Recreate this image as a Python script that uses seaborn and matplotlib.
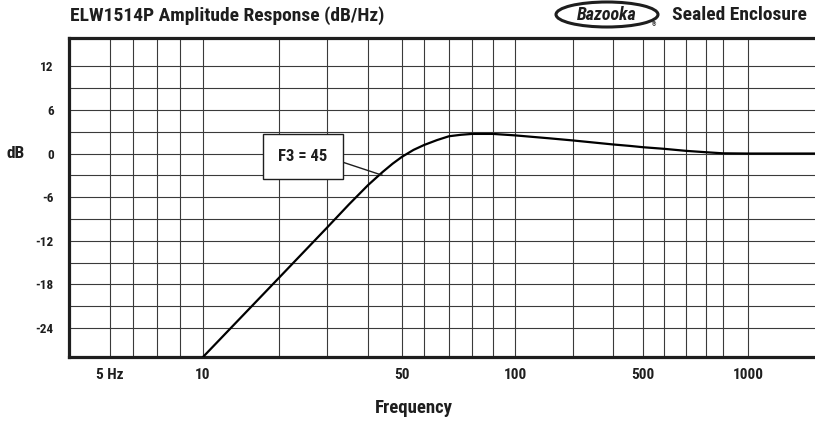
import numpy as np
import pandas as pd
import matplotlib
matplotlib.use("Agg")
import matplotlib.pyplot as plt
from matplotlib import font_manager
from matplotlib.patches import Ellipse
import seaborn as sns

# response curve
freq_hz = [10, 20, 30, 35, 40, 44, 47, 50, 55, 60, 65, 70, 75, 80, 90, 100, 150,
           200, 300, 400, 500, 600, 700, 800, 900, 1000, 1550]
level_db = [-28, -17.1, -10.2, -7.0, -4.35, -2.55, -1.4, -0.45, 0.5, 1.17, 1.85,
            2.38, 2.58, 2.7, 2.7, 2.5, 2.1, 1.8, 1.25, 1.05, 0.87, 0.65, 0.37,
            0.18, 0.03, 0.0, 0.0]

tick_hz = [5, 10, 50, 100, 500, 1000]
tick_labels = ["5 Hz", "10", "50", "100", "500", "1000"]
grid_hz = [5, 6, 7, 8, 10, 20, 30, 40, 50, 60, 70, 80, 90, 100,
           200, 300, 500, 600, 700, 800, 900, 1000]
db_ticks = [12, 6, 0, -6, -12, -18, -24]
db_grid = list(range(-24, 13, 3))

f3_text = "F3 = 45"

# the printed sheet's frequency axis is not a clean log axis, so the scale
# follows where its grid lines sit (pixels across the 815 px sheet)
paper_hz = [4, 5, 6, 7, 8, 10, 20, 30, 40, 50, 60, 70, 80, 90, 100, 200, 300,
            500, 600, 700, 800, 900, 1000, 1550]
paper_px = [69, 110, 133, 157, 180, 203, 279, 327, 368, 402, 424, 449, 472,
            493, 515, 573, 613, 643, 664, 686, 706, 723, 748, 815]
log_hz = np.log10(paper_hz)
slope_lo = (paper_px[1] - paper_px[0]) / (log_hz[1] - log_hz[0])
slope_hi = (paper_px[-1] - paper_px[-2]) / (log_hz[-1] - log_hz[-2])


def to_paper(f):
    lf = np.log10(np.maximum(np.asarray(f, dtype=float), 1e-12))
    p = np.interp(lf, log_hz, paper_px)
    p = np.where(lf < log_hz[0], paper_px[0] + (lf - log_hz[0]) * slope_lo, p)
    p = np.where(lf > log_hz[-1], paper_px[-1] + (lf - log_hz[-1]) * slope_hi, p)
    return p


def from_paper(p):
    p = np.asarray(p, dtype=float)
    lf = np.interp(p, paper_px, log_hz)
    lf = np.where(p < paper_px[0], log_hz[0] + (p - paper_px[0]) / slope_lo, lf)
    lf = np.where(p > paper_px[-1], log_hz[-1] + (p - paper_px[-1]) / slope_hi, lf)
    return 10 ** lf


# narrow bold face if there is one, else Roboto
installed = {f.name for f in font_manager.fontManager.ttflist}
face = "Roboto"
for cand in ["Roboto Condensed", "Liberation Sans Narrow", "Open Sans Condensed"]:
    if cand in installed:
        face = cand
        break

sns.set_style("white")
plt.rcParams["font.family"] = [face, "DejaVu Sans"]
plt.rcParams["font.weight"] = "bold"
plt.rcParams["axes.unicode_minus"] = False

ink = "#1e1e1e"
W, H = 815, 423
fig = plt.figure(figsize=(W / 100, H / 100), dpi=100)
ax = fig.add_axes([69 / W, (H - 357) / H, (815 - 69) / W, (357 - 38) / H])

df = pd.DataFrame({"hz": freq_hz, "db": level_db})
ax.set_xscale("function", functions=(to_paper, from_paper))
sns.lineplot(data=df, x="hz", y="db", ax=ax, color="black", lw=1.6,
             estimator=None, sort=False, zorder=3)

ax.set_xlim(4, 1550)
ax.set_ylim(-28, 15.9)

ax.set_xticks(tick_hz)
ax.set_xticklabels(tick_labels)
ax.set_xticks(grid_hz, minor=True)
ax.set_yticks(db_ticks)
ax.set_yticks(db_grid, minor=True)
ax.grid(True, which="both", color="#3a3a3a", lw=0.8)
ax.tick_params(which="both", length=0)
ax.tick_params(axis="x", pad=8, labelsize=11, labelcolor=ink)
ax.tick_params(axis="y", pad=11, labelsize=9.5, labelcolor=ink)

for side in ["left", "top", "bottom"]:
    ax.spines[side].set_linewidth(2.3)
    ax.spines[side].set_color(ink)
ax.spines["right"].set_visible(False)

ax.set_xlabel("Frequency", fontsize=13.5, fontweight="bold", color=ink, va="center")
ax.xaxis.set_label_coords((414 - 69) / 746, (357 - 408) / 319)
ax.set_ylabel("dB", fontsize=12.5, fontweight="bold", color=ink, rotation=0,
              va="center", ha="center")
ax.yaxis.set_label_coords((16 - 69) / 746, (357 - 154) / 319)

ax.annotate(f3_text, xy=(44, -3), xytext=(24.5, -0.4), textcoords="data",
            fontsize=12, fontweight="bold", color=ink, ha="center", va="center",
            bbox=dict(boxstyle="square,pad=0.9", fc="white", ec=ink, lw=1.0),
            arrowprops=dict(arrowstyle="-", color=ink, lw=1.0,
                            relpos=(1.0, 0.45), shrinkA=0, shrinkB=0),
            zorder=4)

fig.text(227 / W, 1 - 16 / H, "ELW1514P Amplitude Response (dB/Hz)", fontsize=14,
         fontweight="bold", color=ink, ha="center", va="center")
fig.text(807 / W, 1 - 15 / H, "Sealed Enclosure", fontsize=14,
         fontweight="bold", color=ink, ha="right", va="center")

# Bazooka badge
fig.patches.append(Ellipse((607 / W, 1 - 14.5 / H), 102 / W, 25 / H,
                           transform=fig.transFigure, fill=False,
                           ec=ink, lw=2.2))
fig.text(607 / W, 1 - 14.5 / H, "Bazooka", fontsize=13, fontweight="bold",
         fontstyle="italic", color=ink, ha="center", va="center")
fig.text(654 / W, 1 - 25 / H, "®", fontsize=4, color=ink,
         ha="center", va="center")

fig.savefig("out.png", dpi=100)
